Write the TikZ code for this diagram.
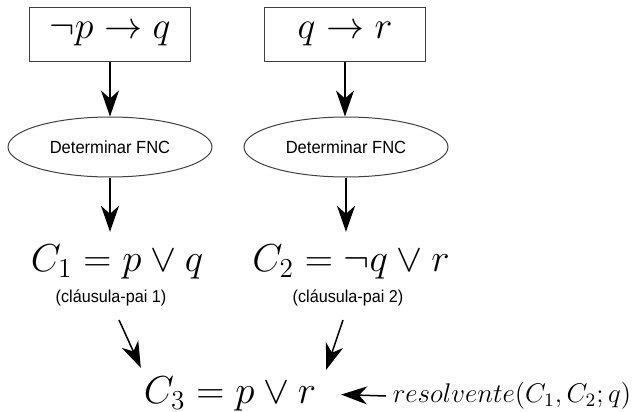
\RequirePackage{fix-cm}
\documentclass[tikz,border=0pt]{standalone}
\usepackage{fontspec}
\newfontfamily\labelfont[FakeStretch=0.94]{Liberation Sans}
\usetikzlibrary{positioning, shapes.geometric, arrows.meta}

\begin{document}
\begin{tikzpicture}[x=0.5pt, y=-0.5pt,
    formbox/.style={rectangle, draw=black!75, line width=0.5pt,
                    minimum width=80.5pt, minimum height=27pt, inner sep=0pt,
                    font=\fontsize{19}{23}\selectfont},
    fncell/.style={ellipse, draw=black!75, line width=0.5pt,
                   minimum width=102pt, minimum height=30pt, inner sep=0pt,
                   font=\labelfont\fontsize{8.8}{10}\selectfont},
    clause/.style={font=\fontsize{19.5}{23}\selectfont},
    parentlbl/.style={font=\labelfont\fontsize{8.6}{10}\selectfont},
    arr/.style={-{Stealth[length=13pt, width=9pt, inset=4pt]}, line width=0.75pt}]
  \useasboundingbox (0,0) rectangle (633,412);

  % Formulas
  \node[formbox] (box1) at (110,34) {$\neg p \to q$};
  \node[formbox] (box2) at (345,34) {$q \to r$};

  % CNF step
  \node[fncell] (fnc1) at (110,147) {Determinar FNC};
  \node[fncell] (fnc2) at (346,147) {Determinar FNC};

  % Parent clauses
  \node[clause] (c1) at (117,262) {$C_1 = p \vee q$};
  \node[clause] (c2) at (351,262) {$C_2 = \neg q \vee r$};
  \node[parentlbl] (lbl1) at (111,298) {(cláusula-pai 1)};
  \node[parentlbl] (lbl2) at (348,298) {(cláusula-pai 2)};

  % Resolvent
  \node[clause] (c3) at (230,394) {$C_3 = p \vee r$};
  \node[font=\fontsize{13.5}{16}\selectfont] (res) at (512,396) {$resolvente(C_1, C_2; q)$};

  \foreach \i in {1,2} {
    \draw[arr] (box\i.south) -- (box\i.south |- fnc\i.north);
    \draw[arr] (fnc\i.south) -- ([yshift=3pt]fnc\i.south |- c\i.north);
  }
  \draw[arr] ([shift={(8,22)}]lbl1.center) -- ([shift={(4,-2)}]c3.north west);
  \draw[arr] ([shift={(-5,22)}]lbl2.center) -- ([shift={(3,0)}]c3.north east);
  \draw[arr, shorten >=9pt] (res.west) -- (c3.east);
\end{tikzpicture}
\end{document}
